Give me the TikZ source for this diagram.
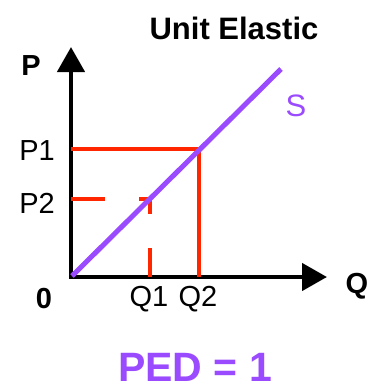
\documentclass[tikz,border=0pt]{standalone}
\usepackage{fontspec}
\setmainfont{Liberation Sans}
\usepackage{xcolor}
\usetikzlibrary{positioning, arrows.meta, calc}
\definecolor{sPurple}{RGB}{155,75,255}
\definecolor{pRed}{RGB}{255,38,0}

\begin{document}
\begin{tikzpicture}[
  x=1pt, y=-1pt,
  axis/.style={line width=4.5pt, line join=miter,
               {Triangle[length=25pt, width=27pt]}-{Triangle[length=25pt, width=27pt]}},
  guide/.style={draw=pRed, line width=4pt},
  supply/.style={draw=sPurple, line width=5pt},
  lbl/.style={font=\fontsize{29}{30}\selectfont},
  blbl/.style={font=\bfseries\fontsize{29}{30}\selectfont},
]
  \useasboundingbox (0,0) rectangle (370,389);

  % axes
  \coordinate (O) at (71,277);
  \coordinate (Ptop) at (71,47);
  \coordinate (Qend) at (327,277);
  \draw[axis] (Ptop) -- (O) -- (Qend);

  % price / quantity points on the curve
  \coordinate (A) at (199,149);
  \coordinate (B) at (150,199);
  \draw[guide] (O |- A) -- (A) -- (A |- O);
  \draw[guide, dash pattern=on 34pt off 34pt] (O |- B) -- (B);
  \draw[guide, dash pattern=on 34pt off 34pt, dash phase=19pt] (B) -- (B |- O);

  % supply curve
  \coordinate (Send) at (281,69);
  \draw[supply] (72,276) -- (Send);

  % labels
  \node[blbl, font=\bfseries\fontsize{31}{32}\selectfont] (title) at (234,28) {Unit Elastic};
  \node[blbl] (plbl) at (31,66) {P};
  \node[blbl] (qlbl) at (357,286) {Q};
  \node[blbl] (zero) at (44,299) {0};
  \node[lbl] (p1) at (37,151) {P1};
  \node[lbl] (p2) at (37,203) {P2};
  \node[lbl] (q1) at (149,299) {Q1};
  \node[lbl] (q2) at (198,299) {Q2};
  \node[lbl, font=\fontsize{31}{32}\selectfont, text=sPurple] (slbl) at (296,106) {S};
  \node[font=\bfseries\fontsize{41}{43}\selectfont, text=sPurple, inner sep=0pt] (ped) at (195,367) {PED = 1};
\end{tikzpicture}
\end{document}
